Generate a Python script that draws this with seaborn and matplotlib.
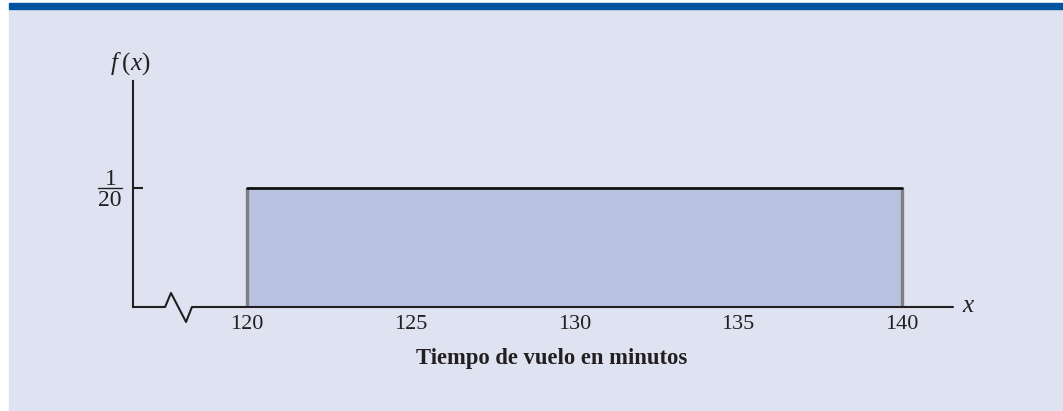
import numpy as np
import pandas as pd
import seaborn as sns
import matplotlib.pyplot as plt
from matplotlib.patches import Rectangle
from matplotlib.lines import Line2D

sns.set_style("white")
plt.rcParams["font.family"] = ["Liberation Serif", "DejaVu Serif"]
plt.rcParams["mathtext.fontset"] = "custom"
plt.rcParams["mathtext.rm"] = "Liberation Serif"
plt.rcParams["mathtext.it"] = "Liberation Serif:italic"

# uniform distribution of flight time
x_min = 120
x_max = 140
density = 1 / 20
x_ticks = [120, 125, 130, 135, 140]
x_label = "Tiempo de vuelo en minutos"

W, H = 1063, 411
fig = plt.figure(figsize=(W / 100, H / 100), dpi=100)
fig.patch.set_facecolor("white")

def px(x, y):
    # pixel position (from top-left) -> figure fraction
    return x / W, 1 - y / H

# background panel and blue band on top
fig.add_artist(Rectangle(px(9, H), (W - 9) / W, (H - 9) / H,
                         transform=fig.transFigure, color="#dfe3f1", zorder=0))
fig.add_artist(Rectangle(px(9, 9), (W - 9) / W, 6 / H,
                         transform=fig.transFigure, color="#0055a0", zorder=0))

ax = fig.add_axes([133 / W, 104 / H, 820 / W, 226 / H])
ax.set_facecolor("none")
ax.set_xlim(116.52, 141.56)
ax.set_ylim(0, 0.095)

df = pd.DataFrame({"x": [x_min, x_max], "f": [density, density]})
ax.fill_between(df["x"], 0, df["f"], color="#b8c1e0", lw=0, zorder=1)
ax.vlines([x_min, x_max], 0, density, color="#808080", lw=2.4, zorder=2)
sns.lineplot(data=df, x="x", y="f", color="#111111", lw=2.0, ax=ax, zorder=3)

# axes: left spine, bottom line with a break
for s in ["top", "right", "bottom"]:
    ax.spines[s].set_visible(False)
ax.spines["left"].set_color("#231f20")
ax.spines["left"].set_linewidth(1.5)
break_x = [116.52, 117.50, 117.68, 118.14, 118.32, 141.56]
break_y = [0, 0, 0.0059, -0.0063, 0, 0]
ax.plot(break_x, break_y, color="#231f20", lw=1.5, clip_on=False, zorder=4)

ax.set_xticks(x_ticks)
ax.set_xticklabels([str(t) for t in x_ticks], fontsize=16, color="#231f20")
ax.tick_params(axis="x", length=0, pad=6)
ax.set_yticks([density])
ax.set_yticklabels([""])
ax.tick_params(axis="y", direction="in", length=7.5, width=1.5, color="#231f20", left=True)
ax.set_xlabel("")
ax.set_ylabel("")

# text around the axes
fig.text(*px(552, 358), x_label, fontsize=16.3, fontweight="bold",
         ha="center", va="center", color="#231f20")
fig.text(*px(130, 64), r"$f\;(x)$", fontsize=18, ha="center", va="center", color="#231f20")
fig.text(*px(969, 306), r"$x$", fontsize=18, ha="center", va="center", color="#231f20")
fig.text(*px(111, 179), "1", fontsize=17, ha="center", va="center", color="#231f20")
fig.text(*px(110, 201), "20", fontsize=17, ha="center", va="center", color="#231f20")
fig.add_artist(Line2D([98 / W, 122 / W], [1 - 188 / H, 1 - 188 / H],
                      transform=fig.transFigure, color="#231f20", lw=1.0))

fig.savefig("out.png", dpi=100, facecolor=fig.get_facecolor())
